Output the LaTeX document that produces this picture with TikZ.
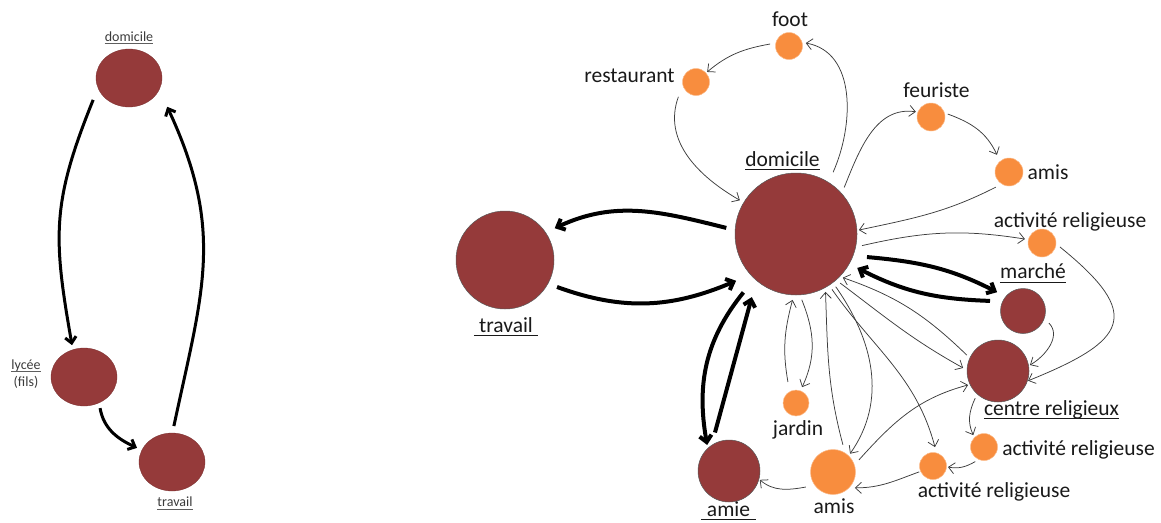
\documentclass[tikz,border=0pt]{standalone}
\usepackage{fontspec}
\setmainfont{Carlito}
\usetikzlibrary{arrows.meta,calc,shapes.geometric}
\definecolor{dred}{RGB}{149,58,58}
\definecolor{orng}{RGB}{248,141,62}
\definecolor{txt}{RGB}{25,25,25}
\definecolor{edgec}{RGB}{60,60,60}
\begin{document}
\begin{tikzpicture}[x=1pt,y=1pt,
  big/.style={circle,fill=dred,draw=black!65,line width=0.5pt,inner sep=0pt,minimum size=#1},
  sml/.style={circle,fill=orng,draw=orng!60!white,line width=0.5pt,inner sep=0pt,minimum size=#1},
  ell/.style={ellipse,fill=dred,draw=dred!80!black,line width=0.3pt,inner sep=0pt,minimum width=66pt,minimum height=58pt},
  lbl/.style={inner sep=0pt,anchor=base,text=txt,font=\fontsize{21.5}{26}\selectfont},
  slbl/.style={inner sep=0pt,anchor=base,text=txt!85!white,font=\fontsize{14}{17}\selectfont},
  ulline/.style={draw=txt,line width=0.9pt},
  sulline/.style={draw=txt!70!white,line width=0.7pt},
  tarr/.style={draw=edgec,line width=0.75pt,-{Straight Barb[length=6pt,width=11pt]}},
  karr/.style={draw=black,line width=4pt,-{Straight Barb[length=6.5pt,width=12pt]}},
  larr/.style={draw=black,line width=3pt,-{Straight Barb[length=6pt,width=11pt]}}
]
\useasboundingbox (0,-522) rectangle (1161,0);

% ---------------- left graph ----------------
\node[ell] (domL) at (129,-78) {};
\node[ell] (lycee) at (84,-377) {};
\node[ell] (travL) at (172,-462) {};
\node[slbl] (LdomL) at (129,-41) {domicile};
\node[slbl] (Llyc) at (26,-369.5) {lycée};
\node[slbl] (Lfils) at (26,-386) {(fils)};
\node[slbl] (LtravL) at (175,-506) {travail};
\draw[sulline] ([yshift=-2.2pt]LdomL.base west) -- ([yshift=-2.2pt]LdomL.base east);
\draw[sulline] ([yshift=-2pt]Llyc.base west) -- ([yshift=-2pt]Llyc.base east);
\draw[sulline] ([yshift=-3.5pt]LtravL.base west) -- ([yshift=-3.5pt]LtravL.base east);

\draw[larr] ($(domL)+(-148.6:42)$) to[out=-112,in=100,looseness=1.15] ($(lycee)+(110.6:34)$);
\draw[larr] ($(lycee)+(-62.7:35)$) to[out=-80,in=155] ($(travL)+(158:37.7)$);
\draw[larr] ($(travL)+(87:36)$) to[out=78,in=-65,looseness=1.1] ($(domL)+(-37:47.8)$);

% ---------------- right graph ----------------
\node[big=122pt] (dom) at (796,-234) {};
\node[big=98pt] (trav) at (505,-260) {};
\node[big=45pt] (marche) at (1023,-311) {};
\node[big=62pt] (centre) at (998,-371) {};
\node[big=62pt] (amie) at (729,-471) {};
\node[sml=27pt] (foot) at (789,-46) {};
\node[sml=27pt] (rest) at (696,-82) {};
\node[sml=28pt] (feur) at (931,-117) {};
\node[sml=28pt] (amisT) at (1009,-172) {};
\node[sml=28pt] (actT) at (1042,-243) {};
\node[sml=26pt] (jardin) at (796,-403) {};
\node[sml=45pt] (amisB) at (833,-472) {};
\node[sml=27pt] (actR) at (984,-447) {};
\node[sml=27pt] (actL) at (933,-466) {};

% labels
\node[lbl] (Ldom) at (782.5,-166) {domicile};
\node[lbl] (Lfoot) at (790,-26) {foot};
\node[lbl] (Lrest) at (629.5,-82) {restaurant};
\node[lbl] (Lfeur) at (936.5,-97) {feuriste};
\node[lbl] (LamisT) at (1048,-179) {amis};
\node[lbl] (LactT) at (1070,-227) {activité religieuse};
\node[lbl] (Lmarche) at (1033,-278) {marché};
\node[lbl] (Ltrav) at (506,-332) {travail};
\node[lbl] (Lamie) at (728.5,-516) {amie};
\node[lbl] (Ljardin) at (798,-435) {jardin};
\node[lbl] (LamisB) at (834,-513) {amis};
\node[lbl] (Lcentre) at (1051.5,-415) {centre religieux};
\node[lbl] (LactR) at (1078.5,-455) {activité religieuse};
\node[lbl] (LactL) at (994,-497) {activité religieuse};
\draw[ulline] ([yshift=-3pt]Ldom.base west) -- ([yshift=-3pt]Ldom.base east);
\draw[ulline] ([yshift=-4pt]Lmarche.base west) -- ([yshift=-4pt]Lmarche.base east);
\draw[ulline] ([shift={(-5pt,-3pt)}]Ltrav.base west) -- ([shift={(5pt,-3pt)}]Ltrav.base east);
\draw[ulline] ([shift={(-6pt,-3pt)}]Lamie.base west) -- ([shift={(6pt,-3pt)}]Lamie.base east);
\draw[ulline] ([yshift=-3pt]Lcentre.base west) -- ([yshift=-3pt]Lcentre.base east);

% thick connectors
\draw[karr] ($(dom)+(175:70)$) to[out=166,in=25] ($(trav)+(32.6:59)$);
\draw[karr] ($(trav)+(-27.4:58.6)$) to[out=-20,in=-157] ($(dom)+(-142:76)$);
\draw[karr] ($(dom)+(-132:78.6)$) to[out=231,in=100] ($(amie)+(130:34)$);
\draw[karr] ($(amie)+(110:41)$) -- ($(dom)+(-125:77)$);
\draw[karr] ($(dom)+(-18:74.6)$) to[out=-5,in=153] ($(marche)+(144:32)$);
\draw[karr] ($(marche)+(163:34.5)$) to[out=178,in=-27] ($(dom)+(-29:70)$);

% thin connectors
\draw[tarr] ($(dom)+(59:72)$) to[out=66,in=-10] ($(foot)+(10:17)$);
\draw[tarr] ($(foot)+(174:19)$) to[out=190,in=40] ($(rest)+(42:15)$);
\draw[tarr] ($(rest)+(-140:23)$) to[out=250,in=150] ($(dom)+(149:65.5)$);
\draw[tarr] ($(dom)+(44:67)$) to[out=68,in=172] ($(feur)+(161:16)$);
\draw[tarr] ($(feur)+(10:17)$) to[out=-20,in=115] ($(amisT)+(125:21)$);
\draw[tarr] ($(amisT)+(-131:20)$) to[out=207,in=12] ($(dom)+(3.6:63)$);
\draw[tarr] ($(dom)+(-10:67)$) to[out=13,in=171] ($(actT)+(167:17.5)$);
\draw[tarr] ($(actT)+(-12.5:18.4)$) to[out=-39,in=22,looseness=2] ($(centre)+(-18:31.6)$);
\draw[tarr] ($(marche)+(-25:28.6)$) to[out=-45,in=30] ($(centre)+(10.6:32.5)$);
\draw[tarr] ($(centre)+(153:35)$) to[out=136,in=-19] ($(dom)+(-43:64)$);
\draw[tarr] ($(dom)+(-48:66)$) to[out=-37,in=151] ($(centre)+(175:35)$);
\draw[tarr] ($(dom)+(-53:66)$) to[out=-55,in=55] ($(amisB)+(47:25)$);
\draw[tarr] ($(dom)+(-57:66)$) to[out=-55,in=105] ($(actL)+(84:19)$);
\draw[tarr] ($(amisB)+(70:29)$) to[out=105,in=-88] ($(dom)+(-63:65)$);
\draw[tarr] ($(dom)+(-85:66)$) to[out=-68,in=65] ($(jardin)+(69:17)$);
\draw[tarr] ($(jardin)+(111:22.5)$) to[out=100,in=-105] ($(dom)+(-93:66)$);
\draw[tarr] ($(centre)+(-130:35.5)$) to[out=-115,in=115] ($(actR)+(132:16)$);
\draw[tarr] ($(actR)+(-121:17)$) to[out=210,in=-10] ($(actL)+(-4:15)$);
\draw[tarr] ($(actL)+(-157:15)$) to[out=200,in=0] ($(amisB)+(-36:27)$);
\draw[tarr] ($(amisB)+(25:28.6)$) to[out=48,in=-165] ($(centre)+(-155:33)$);
\draw[tarr] ($(amisB)+(-151:31)$) to[out=190,in=-40] ($(amie)+(-16:32)$);
\end{tikzpicture}
\end{document}
